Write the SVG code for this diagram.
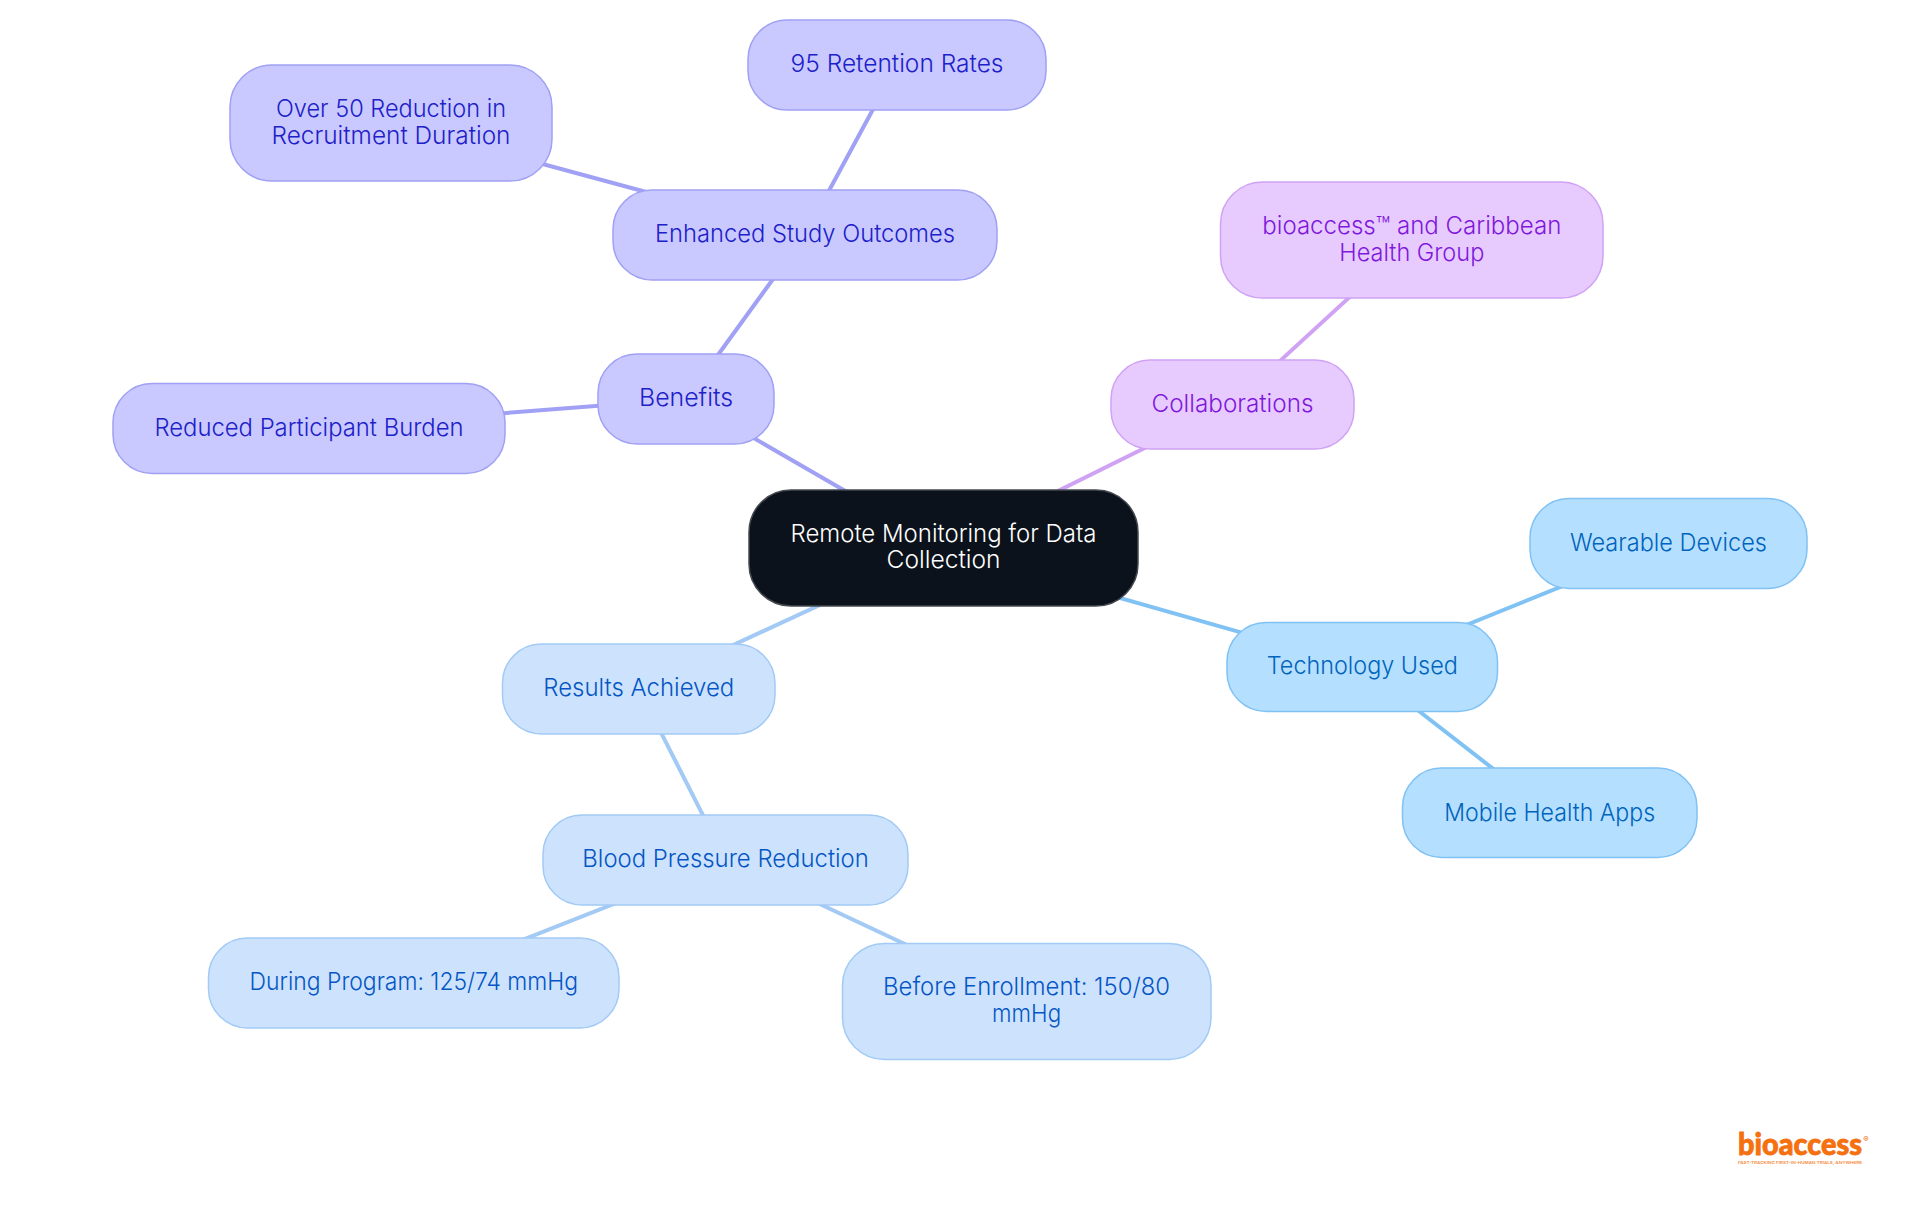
<svg xmlns="http://www.w3.org/2000/svg" width="1920" height="1215" viewBox="0 0 1920 1215">
<style>
text{font-family:"Inter","Noto Sans","Liberation Sans",sans-serif;font-size:24.5px;text-anchor:middle;font-weight:300}
.n rect{stroke-width:1.5}
.a line{stroke:#a0a0f4}.a rect{fill:#c9c9ff;stroke:#a0a0f4}.a text{fill:#2020c8}
.p line{stroke:#d0a2f4}.p rect{fill:#e7cbff;stroke:#d0a2f4}.p text{fill:#8018dc}
.s line{stroke:#80c2f4}.s rect{fill:#b5dfff;stroke:#80c2f4}.s text{fill:#0064bc}
.b line{stroke:#a2caf5}.b rect{fill:#cde3fd;stroke:#a2caf5}.b text{fill:#0556c4}
.logo{font-family:Lato,"Liberation Sans",sans-serif;font-size:30px;font-weight:900;stroke:#f5700f;stroke-width:.8}
</style>
<rect width="1920" height="1215" fill="#fff"/>
<g id="connectors" stroke-width="4">
<g class="a"><line x1="943.5" y1="547.7" x2="686" y2="399"/><line x1="686" y1="399" x2="805" y2="235"/><line x1="686" y1="399" x2="309" y2="428.3"/><line x1="805" y1="235" x2="897" y2="65"/><line x1="805" y1="235" x2="391" y2="123"/></g>
<g class="p"><line x1="943.5" y1="547.7" x2="1232.5" y2="404.5"/><line x1="1232.5" y1="404.5" x2="1411.8" y2="240"/></g>
<g class="s"><line x1="943.5" y1="547.7" x2="1362.3" y2="667"/><line x1="1362.3" y1="667" x2="1668.5" y2="543.3"/><line x1="1362.3" y1="667" x2="1549.7" y2="812.8"/></g>
<g class="b"><line x1="943.5" y1="547.7" x2="638.8" y2="688.8"/><line x1="638.8" y1="688.8" x2="725.6" y2="859.8"/><line x1="725.6" y1="859.8" x2="413.8" y2="982.7"/><line x1="725.6" y1="859.8" x2="1026.6" y2="1001.3"/></g>
</g>
<g id="root" class="n"><rect x="749" y="490" width="389" height="116" rx="42" fill="#0b121b" stroke="#45494f"/><text fill="#fff" x="943.5" y="541.7" textLength="306" lengthAdjust="spacingAndGlyphs">Remote Monitoring for Data</text><text fill="#fff" x="943.5" y="568.3" textLength="114" lengthAdjust="spacingAndGlyphs">Collection</text></g>
<g id="benefits" class="n a"><rect x="598" y="354" width="176" height="90" rx="39"/><text x="686" y="405.7" textLength="94" lengthAdjust="spacingAndGlyphs">Benefits</text></g>
<g id="enhanced" class="n a"><rect x="613" y="190" width="384" height="90" rx="39"/><text x="805" y="241.7" textLength="300" lengthAdjust="spacingAndGlyphs">Enhanced Study Outcomes</text></g>
<g id="retention" class="n a"><rect x="748" y="20" width="298" height="90" rx="39"/><text x="897" y="71.7" textLength="213" lengthAdjust="spacingAndGlyphs">95 Retention Rates</text></g>
<g id="recruitment" class="n a"><rect x="230" y="65" width="322" height="116" rx="42"/><text x="391" y="116.7" textLength="230" lengthAdjust="spacingAndGlyphs">Over 50 Reduction in</text><text x="391" y="144" textLength="239" lengthAdjust="spacingAndGlyphs">Recruitment Duration</text></g>
<g id="burden" class="n a"><rect x="113" y="383.5" width="392" height="90" rx="39"/><text x="309" y="435.7" textLength="309" lengthAdjust="spacingAndGlyphs">Reduced Participant Burden</text></g>
<g id="collaborations" class="n p"><rect x="1111" y="360" width="243" height="89" rx="39"/><text x="1232.5" y="411.7" textLength="162" lengthAdjust="spacingAndGlyphs">Collaborations</text></g>
<g id="caribbean" class="n p"><rect x="1220.5" y="182" width="382.5" height="116" rx="42"/><text x="1411.8" y="234" textLength="299" lengthAdjust="spacingAndGlyphs">bioaccess™ and Caribbean</text><text x="1411.8" y="260.7" textLength="145" lengthAdjust="spacingAndGlyphs">Health Group</text></g>
<g id="technology" class="n s"><rect x="1227" y="622.5" width="270.5" height="89" rx="39"/><text x="1362.3" y="674" textLength="191" lengthAdjust="spacingAndGlyphs">Technology Used</text></g>
<g id="wearable" class="n s"><rect x="1530" y="498.5" width="277" height="90" rx="39"/><text x="1668.5" y="550.7" textLength="197" lengthAdjust="spacingAndGlyphs">Wearable Devices</text></g>
<g id="mobile" class="n s"><rect x="1402.5" y="768" width="294.5" height="89.5" rx="39"/><text x="1549.7" y="820.5" textLength="211" lengthAdjust="spacingAndGlyphs">Mobile Health Apps</text></g>
<g id="results" class="n b"><rect x="502.5" y="644" width="272.5" height="90" rx="39"/><text x="638.8" y="696" textLength="191" lengthAdjust="spacingAndGlyphs">Results Achieved</text></g>
<g id="pressure" class="n b"><rect x="543" y="815" width="365" height="90" rx="39"/><text x="725.6" y="866.7" textLength="286.5" lengthAdjust="spacingAndGlyphs">Blood Pressure Reduction</text></g>
<g id="during" class="n b"><rect x="208.5" y="938" width="410.5" height="90" rx="39"/><text x="413.8" y="990" textLength="328.6" lengthAdjust="spacingAndGlyphs">During Program: 125/74 mmHg</text></g>
<g id="before" class="n b"><rect x="842.5" y="943.5" width="368.5" height="116" rx="42"/><text x="1026.6" y="995" textLength="287" lengthAdjust="spacingAndGlyphs">Before Enrollment: 150/80</text><text x="1026.6" y="1021.7" textLength="69" lengthAdjust="spacingAndGlyphs">mmHg</text></g>
<text class="logo" x="1800" y="1155" fill="#f5700f" textLength="124" lengthAdjust="spacingAndGlyphs">bioaccess</text>
<text x="1866" y="1142" fill="#f5700f" style="font-size:8px;font-weight:600">®</text>
<text x="1800" y="1163.5" fill="#f58a3c" style="font-size:3.6px;font-weight:600" textLength="124" lengthAdjust="spacingAndGlyphs">FAST-TRACKING FIRST-IN-HUMAN TRIALS, ANYWHERE</text>
</svg>
